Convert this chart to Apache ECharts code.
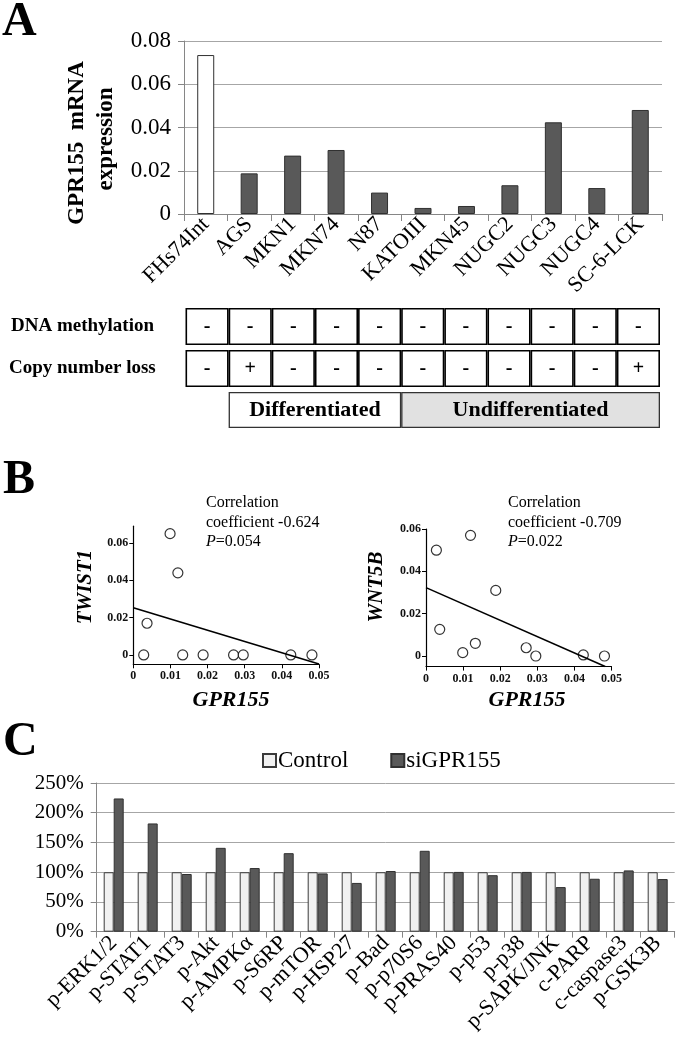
<!DOCTYPE html>
<html>
<head>
<meta charset="utf-8">
<script src="https://cdn.jsdelivr.net/npm/echarts@6/dist/echarts.min.js"></script>
<style>html,body{margin:0;padding:0;background:#fff}#c{width:685px;height:1049px}</style>
</head>
<body>
<div id="c"></div>
<script>
// ---------- Panel A ----------
var cellLines = ['FHs74Int','AGS','MKN1','MKN74','N87','KATOIII','MKN45','NUGC2','NUGC3','NUGC4','SC-6-LCK'];
var gpr155 = [0.0735, 0.0188, 0.0270, 0.0296, 0.0099, 0.0028, 0.0037, 0.0133, 0.0424, 0.0120, 0.0481];
var yTicksA = [0, 0.02, 0.04, 0.06, 0.08];
var methylation = ['-','-','-','-','-','-','-','-','-','-','-'];
var copyLoss = ['-','+','-','-','-','-','-','-','-','-','+'];
var groupNames = ['', 'Differentiated', 'Undifferentiated'];
var groupSpans = [1, 4, 6];
// ---------- Panel B (order: AGS ... SC-6-LCK) ----------
var twist1 = [0, 0, 0, 0.065, 0, 0.017, 0, 0, 0.044, 0];
var wnt5b = [0.031, 0.0039, 0, 0.0016, 0.050, 0.0126, 0.006, 0.0005, 0.057, 0];
var trendTwist = [[0, 0.0253], [0.05, -0.0048]];
var trendWnt = [[0, 0.0323], [0.0483, -0.005]];
var yTicksB = [0, 0.02, 0.04, 0.06];
var statsTwist = ['Correlation', 'coefficient -0.624', '0.054'];
var statsWnt = ['Correlation', 'coefficient -0.709', '0.022'];
// ---------- Panel C ----------
var proteins = ['p-ERK1/2','p-STAT1','p-STAT3','p-Akt','p-AMPKα','p-S6RP','p-mTOR','p-HSP27','p-Bad','p-p70S6','p-PRAS40','p-p53','p-p38','p-SAPK/JNK','c-PARP','c-caspase3','p-GSK3B'];
var control = [100,100,100,100,100,100,100,100,100,100,100,100,100,100,100,100,100];
var siGPR155 = [224, 182, 97, 141, 107, 132, 98, 82, 102, 136, 100.5, 95, 100.5, 75, 89, 103, 88.5];

var FONT = "'Liberation Serif', 'Times New Roman', serif";
var GRID = '#a6a6a6', AX = '#868686', DARK = '#595959', EDGE = '#303030';

var chart = echarts.init(document.getElementById('c'), null, {renderer: 'canvas'});

function hiddenCat(grid, data) {
  return {type: 'category', gridIndex: grid, data: data, show: false, boundaryGap: true};
}
function hiddenVal(grid, min, max) {
  return {type: 'value', gridIndex: grid, min: min, max: max, show: false, splitLine: {show: false}};
}
var scatterX = function (grid) {
  return {
    type: 'value', gridIndex: grid, min: 0, max: 0.05, interval: 0.01,
    axisLine: {onZero: false, lineStyle: {color: '#000', width: 1.2}},
    axisTick: {show: true, length: 4, lineStyle: {color: '#000'}},
    splitLine: {show: false},
    axisLabel: {fontFamily: FONT, fontSize: 12, fontWeight: 'bold', color: '#111', margin: 6,
      formatter: function (v) { return v === 0 ? '0' : v.toFixed(2); }}
  };
};
var scatterY = function (grid, min, max) {
  return {
    type: 'value', gridIndex: grid, min: min, max: max,
    axisLine: {show: true, onZero: false, lineStyle: {color: '#000', width: 1.2}},
    axisTick: {show: true, length: 4, customValues: yTicksB, lineStyle: {color: '#000'}},
    splitLine: {show: false},
    axisLabel: {fontFamily: FONT, fontSize: 12, fontWeight: 'bold', color: '#111', margin: 5,
      customValues: yTicksB,
      formatter: function (v) { return v === 0 ? '0' : v.toFixed(2); }}
  };
};
function pts(ys) {
  var out = [];
  for (var i = 0; i < ys.length; i++) out.push([gpr155[i + 1], ys[i]]);
  return out;
}
function statText(x, s) {
  return [
    {type: 'text', left: x, top: 495, style: {text: s[0], font: '16px ' + FONT, fill: '#000'}},
    {type: 'text', left: x, top: 514.5, style: {text: s[1], font: '16px ' + FONT, fill: '#000'}},
    {type: 'text', left: x, top: 534, style: {text: '{i|P}=' + s[2], font: '16px ' + FONT, fill: '#000',
      rich: {i: {fontStyle: 'italic', fontFamily: FONT, fontSize: 16}}}}
  ];
}

var option = {
  animation: false,
  backgroundColor: '#fff',
  grid: [
    {left: 184, top: 41, width: 478, height: 173},
    {left: 185.5, top: 308, width: 474.5, height: 37},
    {left: 185.5, top: 350, width: 474.5, height: 37},
    {left: 185.5, top: 392, width: 474.5, height: 36},
    {left: 133.3, top: 526.2, width: 185.7, height: 138.1},
    {left: 426, top: 529, width: 185.5, height: 137.6},
    {left: 96.7, top: 783, width: 578, height: 148.7}
  ],
  legend: {
    data: ['Control', 'siGPR155'], left: 257, top: 744, itemWidth: 13, itemHeight: 13, itemGap: 42,
    icon: 'rect', textStyle: {fontFamily: FONT, fontSize: 23, color: '#000', padding: [0, 0, 0, -3]}
  },
  xAxis: [
    {type: 'category', gridIndex: 0, data: cellLines, boundaryGap: true,
      axisLine: {lineStyle: {color: AX}},
      axisTick: {show: true, length: 7, lineStyle: {color: AX}},
      axisLabel: {rotate: 45, interval: 0, fontFamily: FONT, fontSize: 22, color: '#000', margin: 7}},
    hiddenCat(1, cellLines),
    hiddenCat(2, cellLines),
    {type: 'value', gridIndex: 3, min: 0, max: 11, show: false, splitLine: {show: false}},
    scatterX(4),
    scatterX(5),
    {type: 'category', gridIndex: 6, data: proteins, boundaryGap: true,
      axisLine: {lineStyle: {color: AX}},
      axisTick: {show: true, length: 6, lineStyle: {color: AX}},
      axisLabel: {rotate: 45, interval: 0, fontFamily: FONT, fontSize: 22, color: '#000', margin: 8}}
  ],
  yAxis: [
    {type: 'value', gridIndex: 0, min: 0, max: 0.08, interval: 0.02,
      axisLine: {show: true, lineStyle: {color: AX}},
      axisTick: {show: true, length: 6, lineStyle: {color: AX}},
      splitLine: {lineStyle: {color: GRID}},
      axisLabel: {fontFamily: FONT, fontSize: 23, color: '#000', margin: 13,
        formatter: function (v) { return v === 0 ? '0' : v.toFixed(2); }}},
    hiddenVal(1, 0, 1),
    hiddenVal(2, 0, 1),
    {type: 'category', gridIndex: 3, data: ['g'], show: false},
    scatterY(4, -0.005, 0.069),
    scatterY(5, -0.005, 0.06),
    {type: 'value', gridIndex: 6, min: 0, max: 250, interval: 50,
      axisLine: {show: true, lineStyle: {color: AX}},
      axisTick: {show: true, length: 6, lineStyle: {color: AX}},
      splitLine: {lineStyle: {color: GRID}},
      axisLabel: {fontFamily: FONT, fontSize: 21, color: '#000', margin: 13, formatter: '{value}%'}}
  ],
  series: [
    {type: 'bar', name: 'GPR155', xAxisIndex: 0, yAxisIndex: 0, barWidth: 17,
      data: gpr155.map(function (v, i) {
        return i === 0 ? {value: v, itemStyle: {color: '#fff'}} : v;
      }),
      itemStyle: {color: DARK, borderColor: EDGE, borderWidth: 1}},
    {type: 'bar', xAxisIndex: 1, yAxisIndex: 1, barWidth: '100%', data: methylation.map(function () { return 1; }),
      itemStyle: {color: '#fff', borderColor: '#000', borderWidth: 1.6},
      label: {show: true, position: 'inside', fontFamily: FONT, fontSize: 20, fontWeight: 'bold', color: '#000',
        formatter: function (p) { return methylation[p.dataIndex]; }}},
    {type: 'bar', xAxisIndex: 2, yAxisIndex: 2, barWidth: '100%', data: copyLoss.map(function () { return 1; }),
      itemStyle: {color: '#fff', borderColor: '#000', borderWidth: 1.6},
      label: {show: true, position: 'inside', fontFamily: FONT, fontSize: 20, fontWeight: 'bold', color: '#000',
        formatter: function (p) { return copyLoss[p.dataIndex]; }}},
    {type: 'bar', xAxisIndex: 3, yAxisIndex: 3, stack: 'g', barWidth: '100%', data: [groupSpans[0]],
      itemStyle: {color: 'rgba(0,0,0,0)', borderWidth: 0}, silent: true},
    {type: 'bar', xAxisIndex: 3, yAxisIndex: 3, stack: 'g', barWidth: '100%', data: [groupSpans[1]],
      itemStyle: {color: '#fff', borderColor: '#333', borderWidth: 1.3},
      label: {show: true, position: 'inside', fontFamily: FONT, fontSize: 22, fontWeight: 'bold', color: '#000',
        formatter: function () { return groupNames[1]; }}},
    {type: 'bar', xAxisIndex: 3, yAxisIndex: 3, stack: 'g', barWidth: '100%', data: [groupSpans[2]],
      itemStyle: {color: '#e1e1e1', borderColor: '#333', borderWidth: 1.3},
      label: {show: true, position: 'inside', fontFamily: FONT, fontSize: 22, fontWeight: 'bold', color: '#000',
        formatter: function () { return groupNames[2]; }}},
    {type: 'line', xAxisIndex: 4, yAxisIndex: 4, data: trendTwist, symbol: 'none', clip: true,
      lineStyle: {color: '#000', width: 1.6}},
    {type: 'scatter', xAxisIndex: 4, yAxisIndex: 4, data: pts(twist1), symbol: 'circle', symbolSize: 10,
      itemStyle: {color: '#fff', borderColor: '#000', borderWidth: 1.2}},
    {type: 'line', xAxisIndex: 5, yAxisIndex: 5, data: trendWnt, symbol: 'none', clip: true,
      lineStyle: {color: '#000', width: 1.6}},
    {type: 'scatter', xAxisIndex: 5, yAxisIndex: 5, data: pts(wnt5b), symbol: 'circle', symbolSize: 10,
      itemStyle: {color: '#fff', borderColor: '#000', borderWidth: 1.2}},
    {type: 'bar', name: 'Control', xAxisIndex: 6, yAxisIndex: 6, data: control, barWidth: 10, barGap: '0%',
      itemStyle: {color: '#f1f1f1', borderColor: '#3a3a3a', borderWidth: 1}},
    {type: 'bar', name: 'siGPR155', xAxisIndex: 6, yAxisIndex: 6, data: siGPR155, barWidth: 10, barGap: '0%',
      itemStyle: {color: DARK, borderColor: EDGE, borderWidth: 1}}
  ],
  graphic: [
    {type: 'text', x: 2, y: 23, style: {text: 'A', font: 'bold 48px ' + FONT, fill: '#000', verticalAlign: 'middle'}},
    {type: 'text', x: 3, y: 481, style: {text: 'B', font: 'bold 48px ' + FONT, fill: '#000', verticalAlign: 'middle'}},
    {type: 'text', x: 3, y: 743, style: {text: 'C', font: 'bold 48px ' + FONT, fill: '#000', verticalAlign: 'middle'}},
    {type: 'text', x: 77, y: 143, rotation: Math.PI / 2,
      style: {text: 'GPR155  mRNA', font: 'bold 23px ' + FONT, fill: '#000', align: 'center', verticalAlign: 'middle'}},
    {type: 'text', x: 106, y: 139, rotation: Math.PI / 2,
      style: {text: 'expression', font: 'bold 23px ' + FONT, fill: '#000', align: 'center', verticalAlign: 'middle'}},
    {type: 'text', x: 11, y: 326, style: {text: 'DNA methylation', font: 'bold 19px ' + FONT, fill: '#000', verticalAlign: 'middle'}},
    {type: 'text', x: 9, y: 368, style: {text: 'Copy number loss', font: 'bold 19px ' + FONT, fill: '#000', verticalAlign: 'middle'}},
    {type: 'text', x: 86, y: 587, rotation: Math.PI / 2,
      style: {text: 'TWIST1', font: 'italic bold 21px ' + FONT, fill: '#000', align: 'center', verticalAlign: 'middle'}},
    {type: 'text', x: 377, y: 587, rotation: Math.PI / 2,
      style: {text: 'WNT5B', font: 'italic bold 21px ' + FONT, fill: '#000', align: 'center', verticalAlign: 'middle'}},
    {type: 'text', x: 231, y: 700,
      style: {text: 'GPR155', font: 'italic bold 22px ' + FONT, fill: '#000', align: 'center', verticalAlign: 'middle'}},
    {type: 'text', x: 527, y: 700,
      style: {text: 'GPR155', font: 'italic bold 22px ' + FONT, fill: '#000', align: 'center', verticalAlign: 'middle'}}
  ].concat(statText(206, statsTwist)).concat(statText(508, statsWnt))
};
chart.setOption(option);
</script>
</body>
</html>
